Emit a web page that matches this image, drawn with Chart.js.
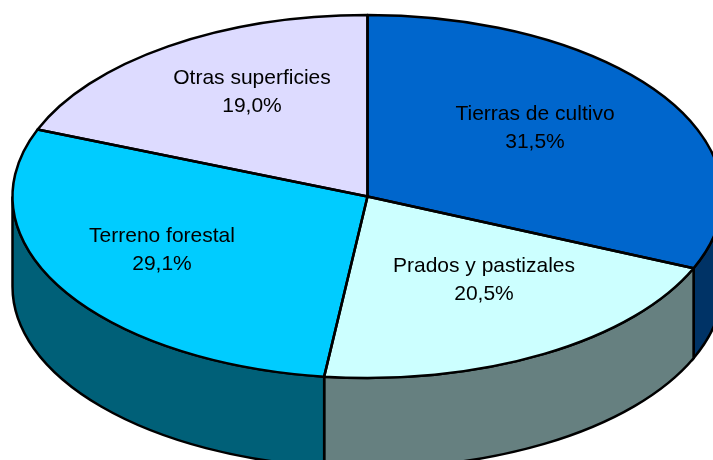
<!DOCTYPE html>
<html lang="es">
<head>
<meta charset="utf-8">
<title>Superficies</title>
<script src="https://cdn.jsdelivr.net/npm/chart.js@4/dist/chart.umd.min.js"></script>
<style>
    html, body { margin: 0; padding: 0; background: #fff; overflow: hidden; }
    #chart-box { position: relative; width: 713px; height: 460px; }
</style>
</head>
<body>
<div id="chart-box"><canvas id="pie"></canvas></div>
<script>
// Data
const categories = ['Tierras de cultivo', 'Prados y pastizales', 'Terreno forestal', 'Otras superficies'];
const shares = [31.5, 20.5, 29.1, 19.0];
const topColors = ['#0066cc', '#ccffff', '#00ccff', '#dddbff'];
const wallColors = ['#003366', '#668080', '#006078', '#6e6d80'];

// 3D look: the doughnut controller draws a circle, we squash it into an ellipse
const squash = 181.5 / 355;
const depth = 90;
const lineWidth = 2.5;

// Label centres in pixels, same order as categories
const labelSpots = [[535, 128], [484, 280], [162, 250], [252, 92]];

function squashed(ctx, cy, draw) {
    ctx.save();
    ctx.translate(0, cy);
    ctx.scale(1, squash);
    ctx.translate(0, -cy);
    draw();
    ctx.restore();
}

const pie3d = {
    id: 'pie3d',
    beforeDatasetsDraw(chart) {
        const ctx = chart.ctx;
        const arcs = chart.getDatasetMeta(0).data;
        const lift = depth / squash;

        // Walls, only the front half of each slice can be seen
        arcs.forEach((arc, i) => {
            const from = Math.max(arc.startAngle, 0);
            const to = Math.min(arc.endAngle, Math.PI);
            if (from >= to) return;
            ctx.save();
            ctx.beginPath();
            squashed(ctx, arc.y, () => {
                ctx.arc(arc.x, arc.y, arc.outerRadius, from, to);
                ctx.arc(arc.x, arc.y + lift, arc.outerRadius, to, from, true);
                ctx.closePath();
            });
            ctx.fillStyle = wallColors[i];
            ctx.fill();
            ctx.strokeStyle = '#000';
            ctx.lineWidth = lineWidth;
            ctx.stroke();
            ctx.restore();
        });

        // The library fills the slices inside this squash
        ctx.save();
        ctx.translate(0, arcs[0].y);
        ctx.scale(1, squash);
        ctx.translate(0, -arcs[0].y);
    },
    afterDatasetsDraw(chart) {
        const ctx = chart.ctx;
        ctx.restore();

        // Outlines go here so the line keeps one width all the way round
        chart.getDatasetMeta(0).data.forEach(arc => {
            ctx.save();
            ctx.beginPath();
            squashed(ctx, arc.y, () => {
                ctx.moveTo(arc.x, arc.y);
                ctx.arc(arc.x, arc.y, arc.outerRadius, arc.startAngle, arc.endAngle);
                ctx.closePath();
            });
            ctx.strokeStyle = '#000';
            ctx.lineWidth = lineWidth;
            ctx.lineJoin = 'round';
            ctx.stroke();
            ctx.restore();
        });

        ctx.save();
        ctx.fillStyle = '#000';
        ctx.font = '21px "Liberation Sans", Arial, sans-serif';
        ctx.textAlign = 'center';
        ctx.textBaseline = 'middle';
        categories.forEach((name, i) => {
            const [x, y] = labelSpots[i];
            ctx.fillText(name, x, y - 14);
            ctx.fillText(shares[i].toFixed(1).replace('.', ',') + '%', x, y + 14);
        });
        ctx.restore();
    }
};

new Chart(document.getElementById('pie'), {
    type: 'pie',
    data: {
        labels: categories,
        datasets: [{
            data: shares,
            backgroundColor: topColors,
            borderWidth: 0,
            radius: 355
        }]
    },
    options: {
        responsive: true,
        maintainAspectRatio: false,
        animation: false,
        // moves the pie centre to where the reference has it
        layout: { padding: { left: 22, bottom: 67 } },
        plugins: {
            legend: { display: false },
            tooltip: { enabled: false }
        }
    },
    plugins: [pie3d]
});
</script>
</body>
</html>
